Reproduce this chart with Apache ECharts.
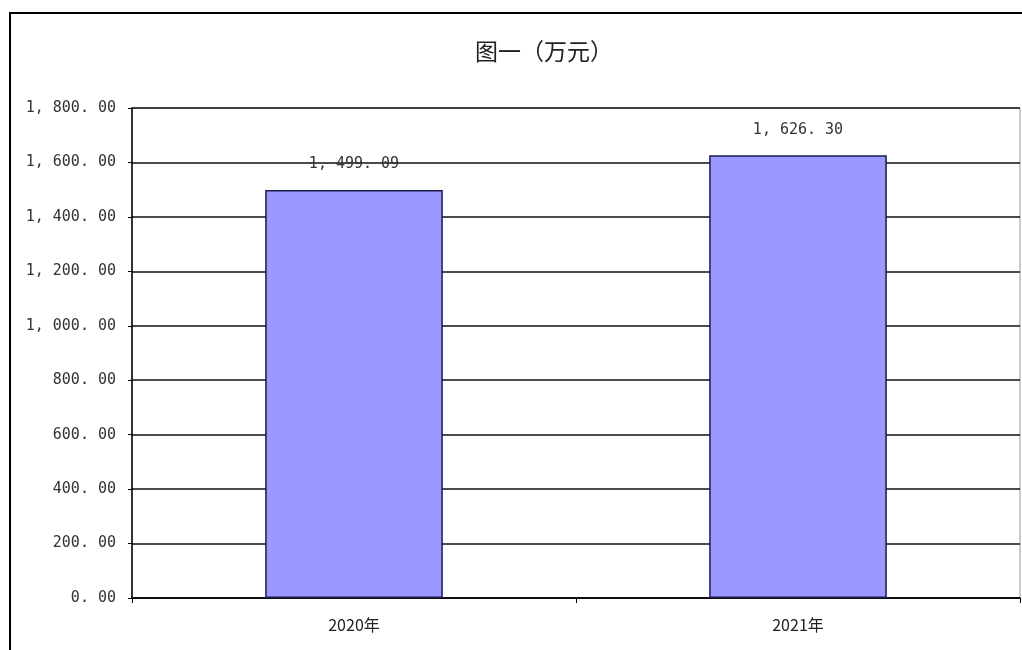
<!DOCTYPE html>
<html><head><meta charset="utf-8">
<script src="https://cdn.jsdelivr.net/npm/echarts@6/dist/echarts.min.js"></script>
<style>
html,body{margin:0;padding:0;background:#fff;}
#c{position:absolute;left:0;top:0;width:1022px;height:650px;}
#frame{position:absolute;left:9px;top:12px;width:1013px;height:638px;border-top:2px solid #000;border-left:2px solid #000;pointer-events:none;}
</style></head>
<body>
<div id="c"></div>
<div id="frame"></div>
<script>
const categories = ['2020年', '2021年'];
const values = [1499.09, 1626.30];
const yMin = 0, yMax = 1800, yStep = 200;
const titleText = '图一（万元）';

function fmt(v) {
  const s = Number(v).toLocaleString('en-US', {minimumFractionDigits: 2, maximumFractionDigits: 2});
  return s.replace(/,/g, ', ').replace(/\./g, '. ');
}

const chart = echarts.init(document.getElementById('c'));
chart.setOption({
  animation: false,
  backgroundColor: '#fff',
  title: {
    text: titleText, left: 470, top: 35,
    textStyle: {fontFamily: 'Noto Sans CJK SC', fontSize: 23, fontWeight: 'normal', color: '#222'}
  },
  grid: {left: 132, right: 2, top: 108, bottom: 52, show: true, borderColor: '#999', borderWidth: 1},
  xAxis: {
    type: 'category', data: categories,
    axisLine: {lineStyle: {color: '#000', width: 1.5}},
    axisTick: {show: true, length: 5, lineStyle: {color: '#000'}},
    axisLabel: {fontFamily: 'Noto Sans CJK SC', fontSize: 16, color: '#222', margin: 19}
  },
  yAxis: {
    type: 'value', min: yMin, max: yMax, interval: yStep,
    axisLine: {show: true, lineStyle: {color: '#000', width: 1.5}},
    axisTick: {show: true, length: 4, lineStyle: {color: '#000'}},
    splitLine: {lineStyle: {color: '#111', width: 1.5}},
    axisLabel: {formatter: fmt, fontFamily: 'DejaVu Sans Mono', fontSize: 15, color: '#333', margin: 16}
  },
  series: [{
    type: 'bar', data: values, barWidth: '40%',
    itemStyle: {color: '#9999FF', borderColor: '#1a1a50', borderWidth: 1.5},
    label: {show: true, position: 'top', distance: 18, formatter: p => fmt(p.value),
      fontFamily: 'DejaVu Sans Mono', fontSize: 15, color: '#333'}
  }]
});
</script>
</body></html>
